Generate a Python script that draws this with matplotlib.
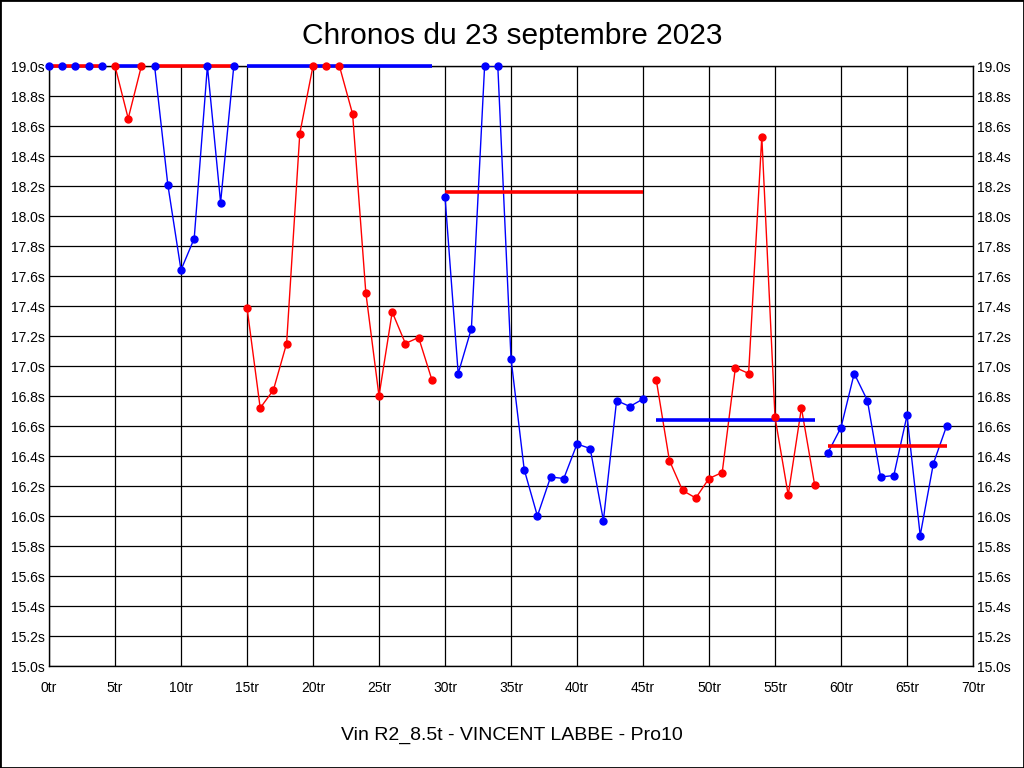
# Chronos du 23 septembre 2023 - temps au tour par relais

import matplotlib
matplotlib.use("Agg")
import matplotlib.pyplot as plt
from matplotlib.patches import Rectangle

# temps au tour (s), tour 0 a 68
times = [19.0, 19.0, 19.0, 19.0, 19.0,
         19.0, 18.65, 19.0,
         19.0, 18.21, 17.64, 17.85, 19.0, 18.09, 19.0,
         17.39, 16.72, 16.84, 17.15, 18.55, 19.0, 19.0, 19.0, 18.68, 17.49,
         16.80, 17.36, 17.15, 17.19, 16.91,
         18.13, 16.95, 17.25, 19.0, 19.0, 17.05, 16.31, 16.00, 16.26, 16.25,
         16.48, 16.45, 15.97, 16.77, 16.73, 16.78,
         16.91, 16.37, 16.17, 16.12, 16.25, 16.29, 16.99, 16.95, 18.53, 16.66,
         16.14, 16.72, 16.21,
         16.42, 16.59, 16.95, 16.77, 16.26, 16.27, 16.67, 15.87, 16.35, 16.60]

# relais : premier et dernier tour
stint_start = [0, 5, 8, 15, 30, 46, 59]
stint_end = [4, 7, 14, 29, 45, 58, 68]
stint_avg = [19.0, 19.0, 19.0, 19.0, 18.16, 16.64, 16.47]
point_color = ["blue", "red", "blue", "red", "blue", "red", "blue"]
avg_color = ["red", "blue", "red", "blue", "red", "blue", "red"]

y_ticks = [15.0 + 0.2 * i for i in range(21)]
x_ticks = [0, 5, 10, 15, 20, 25, 30, 35, 40, 45, 50, 55, 60, 65, 70]

plt.rcParams["font.family"] = ["Liberation Sans", "DejaVu Sans"]

fig = plt.figure(figsize=(10.24, 7.68), dpi=100)
ax = fig.add_axes([49 / 1024, 1 - 666 / 768, 924 / 1024, 600 / 768])

for i in range(len(stint_start)):
    a, b = stint_start[i], stint_end[i]
    xs = list(range(a, b + 1))
    ys = times[a:b + 1]
    ax.plot(xs, ys, color=point_color[i], lw=1.0, zorder=3)
    ax.plot([a, b], [stint_avg[i], stint_avg[i]], color=avg_color[i], lw=2.6,
            solid_capstyle="butt", zorder=4, clip_on=False)
    ax.plot(xs, ys, linestyle="none", marker="o", ms=5, color=point_color[i],
            zorder=5, clip_on=False)

ax.set_xlim(0, 70)
ax.set_ylim(15.0, 19.0)
ax.set_xticks(x_ticks)
ax.set_xticklabels(["%dtr" % v for v in x_ticks])
ax.set_yticks(y_ticks)
ax.set_yticklabels(["%.1fs" % v for v in y_ticks])
ax.grid(True, color="black", lw=0.9)
ax.set_axisbelow(True)
ax.tick_params(length=0, labelsize=10, labelright=True)
ax.tick_params(axis="y", pad=3)
ax.tick_params(axis="x", pad=11)
for s in ax.spines.values():
    s.set_color("black")
    s.set_linewidth(1.0)

fig.text(0.5, 1 - 36 / 768, "Chronos du 23 septembre 2023", ha="center", va="center",
         fontsize=21.5)
fig.text(0.5, 1 - 735 / 768, "Vin R2_8.5t - VINCENT LABBE - Pro10", ha="center", va="center",
         fontsize=14)

fig.patches.append(Rectangle((0, 0), 1, 1, transform=fig.transFigure, fill=False,
                             edgecolor="black", lw=2))

fig.savefig("out.png", dpi=100)
